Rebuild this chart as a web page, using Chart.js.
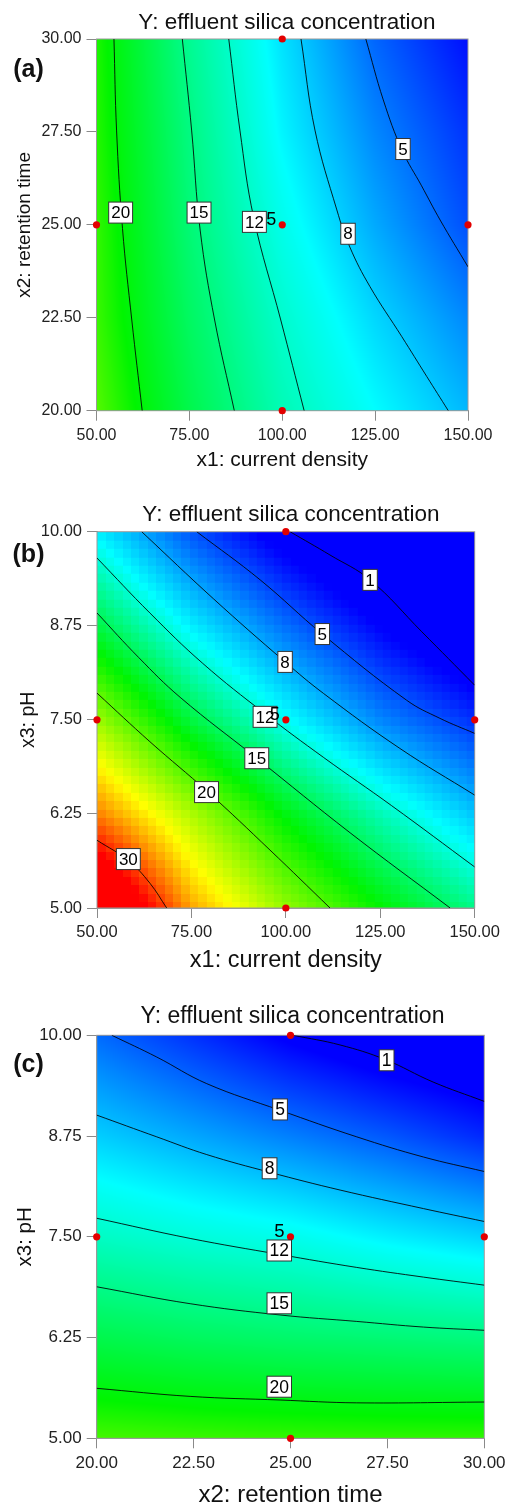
<!DOCTYPE html>
<html lang="en">
<head>
<meta charset="UTF-8">
<title>Y: effluent silica concentration</title>
<script src="https://cdn.jsdelivr.net/npm/chart.js"></script>
<style>
  body { margin: 0; background: #fff; }
  canvas { display: block; }
</style>
</head>
<body>
<canvas id="chartA" width="507" height="475"></canvas>
<canvas id="chartB" width="507" height="500"></canvas>
<canvas id="chartC" width="507" height="529"></canvas>
<script>
// ---------- panel (a): x1 current density / x2 retention time ----------
const aX1 = [50, 75, 100, 125, 150];
const aX2 = [30, 27.5, 25, 22.5, 20];
// silica at the grid nodes (rows = aX2, cols = aX1)
const aSilica = [
  [21.3, 14.5, 9.0, 4.6, 1.5],
  [21.5, 15.2, 9.7, 5.8, 2.8],
  [21.9, 15.7, 10.8, 7.0, 3.8],
  [22.1, 16.5, 12.0, 8.6, 5.8],
  [22.8, 17.4, 13.0, 10.0, 7.5]
];
const aLine20 = [[54.7, 30], [55.4, 27.55], [57.0, 24.9], [59.5, 22.44], [62.3, 20]];
const aLine15 = [[73.1, 30], [75.6, 27.55], [77.9, 24.86], [81.8, 22.44], [87.1, 20]];
const aLine12 = [[85.6, 30], [88.6, 27.55], [92.3, 25.2], [99.6, 22.44], [105.9, 20]];
const aLine8 = [[105.05, 30], [108.8, 27.55], [114.7, 25.4], [118.2, 24.4], [123.6, 23.34], [132.2, 21.99], [138.9, 20.92], [144.7, 20]];
const aLine5 = [[122.5, 30], [127.2, 28.36], [132.3, 27.0], [137.5, 26.05], [142.5, 25.13], [150, 23.87]];
const aLabelText = ['20', '15', '12', '8', '5'];
const aLabelX = [56.5, 77.6, 92.5, 117.7, 132.5];
const aLabelY = [25.33, 25.33, 25.08, 24.76, 27.04];
const aRunX = [50, 100, 100, 150, 100];
const aRunY = [25, 30, 25, 25, 20];

// ---------- panel (b): x1 current density / x3 pH ----------
const bX1 = [50, 75, 100, 125, 150];
const bPH = [10, 8.75, 7.5, 6.25, 5];
const bSilica = [
  [10.5, 5.3, 1.2, -2.0, -4.0],
  [15.8, 10.5, 6.2, 2.4, -0.9],
  [21.8, 15.9, 11.2, 7.0, 4.1],
  [27.8, 22.3, 17.1, 12.9, 9.1],
  [36.0, 26.8, 21.5, 17.5, 14.0]
];
const bLine1 = [[101.1, 10], [111.7, 9.69], [122.3, 9.36], [136.0, 8.67], [150, 7.96]];
const bLine5 = [[76.4, 10], [93.2, 9.36], [109.65, 8.64], [132.0, 7.76], [140.8, 7.52], [150, 7.32]];
const bLine8 = [[61.83, 10], [80.8, 9.11], [99.8, 8.27], [110, 7.85], [130.2, 7.12], [150, 6.5]];
const bLine12 = [[50, 9.65], [64, 8.92], [78, 8.25], [94.5, 7.58], [110, 7.0], [128, 6.36], [150, 5.545]];
const bLine15 = [[50, 8.92], [61, 8.33], [72, 7.8], [92.3, 6.99], [117, 6.0], [143.5, 5.0]];
const bLine20 = [[50, 7.855], [64, 7.21], [79.4, 6.54], [95.8, 5.77], [111.7, 5.0]];
const bLine30 = [[50, 5.9], [58.3, 5.63], [64, 5.33], [68.45, 5.0]];
const bLabelText = ['1', '5', '8', '12', '15', '20', '30'];
const bLabelX = [122.3, 109.65, 99.8, 94.5, 92.3, 79.0, 58.3];
const bLabelY = [9.36, 8.64, 8.27, 7.54, 6.99, 6.54, 5.65];
const bRunX = [50, 100, 100, 150, 100];
const bRunY = [7.5, 10, 7.5, 7.5, 5];

// ---------- panel (c): x2 retention time / x3 pH ----------
const cX2 = [20, 22.5, 25, 27.5, 30];
const cPH = [10, 8.75, 7.5, 6.25, 5];
const cSilica = [
  [5.3, 3.2, 1.1, -0.5, -1.5],
  [8.8, 7.4, 6.0, 4.6, 2.9],
  [12.8, 11.9, 11.2, 10.0, 9.0],
  [17.5, 16.8, 16.3, 15.9, 15.5],
  [22.4, 22.1, 21.9, 21.8, 21.8]
];
const cLine1 = [[25.07, 10], [26.28, 9.88], [27.44, 9.7], [28.68, 9.42], [30, 9.18]];
const cLine5 = [[20.39, 10], [21.55, 9.73], [22.84, 9.4], [24.73, 9.07], [26.71, 8.74], [28.43, 8.49], [30, 8.31]];
const cLine8 = [[20, 9.01], [21.55, 8.74], [22.84, 8.52], [24.47, 8.3], [26.28, 8.08], [28.43, 7.85], [30, 7.69]];
const cLine12 = [[20, 7.73], [22.41, 7.48], [24.73, 7.28], [26.71, 7.12], [28.43, 7.0], [30, 6.9]];
const cLine15 = [[20, 6.88], [22.41, 6.67], [24.73, 6.53], [26.71, 6.45], [28.43, 6.38], [30, 6.34]];
const cLine20 = [[20, 5.62], [22.41, 5.52], [24.73, 5.475], [26.71, 5.44], [30, 5.45]];
const cLabelText = ['1', '5', '8', '12', '15', '20'];
const cLabelX = [27.48, 24.73, 24.46, 24.71, 24.71, 24.71];
const cLabelY = [9.69, 9.08, 8.35, 7.33, 6.675, 5.64];
const cRunX = [20, 25, 25, 30, 25];
const cRunY = [7.5, 10, 7.5, 7.5, 5];

// centre point was run 5 times
const replicates = '5';

// colour map: blue, cyan, green, yellow, red (each panel has its own value stops)
const mapColours = [[0, 0, 255], [0, 255, 255], [0, 245, 0], [255, 255, 0], [255, 0, 0]];

const FONT = "'Liberation Sans', Arial, sans-serif";

function colourOf(v, stops) {
  if (v <= stops[0]) return mapColours[0];
  for (let k = 1; k < stops.length; k++) {
    if (v <= stops[k]) {
      const t = (v - stops[k - 1]) / (stops[k] - stops[k - 1]);
      const a = mapColours[k - 1], b = mapColours[k];
      return [a[0] + (b[0] - a[0]) * t, a[1] + (b[1] - a[1]) * t, a[2] + (b[2] - a[2]) * t];
    }
  }
  return mapColours[mapColours.length - 1];
}

// value on the node grid (cols ascending, rows descending)
function surface(cols, rows, grid, xv, yv) {
  let i = 0;
  while (i < cols.length - 2 && xv > cols[i + 1]) i++;
  let j = 0;
  while (j < rows.length - 2 && yv < rows[j + 1]) j++;
  const tx = Math.min(1, Math.max(0, (xv - cols[i]) / (cols[i + 1] - cols[i])));
  const ty = Math.min(1, Math.max(0, (yv - rows[j]) / (rows[j + 1] - rows[j])));
  const top = grid[j][i] * (1 - tx) + grid[j][i + 1] * tx;
  const bot = grid[j + 1][i] * (1 - tx) + grid[j + 1][i + 1] * tx;
  return top * (1 - ty) + bot * ty;
}

function heatmapPlugin(p) {
  return {
    id: 'heatmap',
    beforeDatasetsDraw(chart) {
      const { ctx, chartArea: a, scales: { x, y } } = chart;
      const w = Math.round(a.right - a.left), h = Math.round(a.bottom - a.top);
      const off = document.createElement('canvas');
      off.width = w; off.height = h;
      const octx = off.getContext('2d');
      const img = octx.createImageData(w, h);
      for (let r = 0; r < h; r++) {
        for (let c = 0; c < w; c++) {
          let px = a.left + c + 0.5, py = a.top + r + 0.5;
          if (p.block) { // coarse cells like the original render
            px = a.left + (Math.floor(c / p.block) + 0.5) * p.block;
            py = a.top + (Math.floor(r / p.block) + 0.5) * p.block;
          }
          const v = surface(p.cols, p.rows, p.grid, x.getValueForPixel(px), y.getValueForPixel(py));
          const col = colourOf(v, p.stops);
          const k = (r * w + c) * 4;
          img.data[k] = col[0]; img.data[k + 1] = col[1]; img.data[k + 2] = col[2]; img.data[k + 3] = 255;
        }
      }
      octx.putImageData(img, 0, 0);
      ctx.save();
      ctx.drawImage(off, a.left, a.top, a.right - a.left, a.bottom - a.top);
      ctx.strokeStyle = '#9a9a9a';
      ctx.lineWidth = 1;
      ctx.strokeRect(a.left, a.top, a.right - a.left, a.bottom - a.top);
      ctx.restore();
    }
  };
}

function labelPlugin(p) {
  return {
    id: 'contourLabels',
    afterDatasetsDraw(chart) {
      const { ctx, scales: { x, y } } = chart;
      ctx.save();
      ctx.font = p.labelSize + 'px ' + FONT;
      ctx.textAlign = 'center';
      ctx.textBaseline = 'middle';
      p.labelText.forEach((t, k) => {
        const cx = x.getPixelForValue(p.labelX[k]);
        const cy = y.getPixelForValue(p.labelY[k]);
        const bw = ctx.measureText(t).width + 5, bh = 21;
        ctx.fillStyle = '#fff';
        ctx.fillRect(cx - bw / 2, cy - bh / 2, bw, bh);
        ctx.strokeStyle = '#333';
        ctx.lineWidth = 1;
        ctx.strokeRect(cx - bw / 2, cy - bh / 2, bw, bh);
        ctx.fillStyle = '#000';
        ctx.fillText(t, cx, cy + 1);
      });
      // replicate count next to the centre point
      const cx = x.getPixelForValue(p.runX[2]) - 11;
      const cy = y.getPixelForValue(p.runY[2]) - 5;
      ctx.font = (p.labelSize + 1) + 'px ' + FONT;
      ctx.fillStyle = '#000';
      ctx.fillText(replicates, cx, cy);
      ctx.restore();
    }
  };
}

function textPlugin(p) {
  return {
    id: 'panelText',
    afterDraw(chart) {
      const ctx = chart.ctx;
      ctx.save();
      ctx.fillStyle = '#111';
      ctx.textAlign = 'center';
      ctx.textBaseline = 'middle';
      ctx.font = p.titleSize + 'px ' + FONT;
      ctx.fillText('Y: effluent silica concentration', p.titleX, p.titleY);
      ctx.font = 'bold 25px ' + FONT;
      ctx.fillText(p.letter, 28.5, p.letterY);
      ctx.restore();
    }
  };
}

function buildPanel(id, p) {
  const lines = p.lines.map(pts => ({
    type: 'line',
    data: pts.map(([xv, yv]) => ({ x: xv, y: yv })),
    borderColor: 'rgba(0,0,0,0.85)',
    borderWidth: 1,
    pointRadius: 0,
    tension: 0.4,
    fill: false,
    order: 2
  }));
  const runs = {
    type: 'scatter',
    data: p.runX.map((xv, k) => ({ x: xv, y: p.runY[k] })),
    pointRadius: 3.6,
    backgroundColor: '#e30000',
    borderWidth: 0,
    clip: false,
    order: 1
  };
  const tickFont = { family: FONT, size: p.tickSize };
  return new Chart(document.getElementById(id), {
    type: 'scatter',
    data: { datasets: [runs].concat(lines) },
    options: {
      responsive: false,
      animation: false,
      events: [],
      layout: { padding: { top: p.top, right: p.right, left: 0, bottom: 0 } },
      plugins: { legend: { display: false }, tooltip: { enabled: false } },
      scales: {
        x: {
          type: 'linear',
          min: p.cols[0],
          max: p.cols[p.cols.length - 1],
          afterBuildTicks: s => { s.ticks = p.cols.map(v => ({ value: v })); },
          afterFit: s => { s.height = p.xAxisH; s.paddingLeft = 0; s.paddingRight = 0; },
          ticks: { callback: v => v.toFixed(2), font: tickFont, color: '#222', padding: 5, maxRotation: 0 },
          grid: { drawOnChartArea: false, tickLength: 10, color: '#8a8a8a' },
          border: { color: '#9a9a9a' },
          title: { display: true, text: p.xTitle, color: '#111',
                   font: { family: FONT, size: p.xTitleSize, lineHeight: p.xTitleLH },
                   padding: { top: 0, bottom: p.xTitlePad } }
        },
        y: {
          type: 'linear',
          min: p.rows[p.rows.length - 1],
          max: p.rows[0],
          afterBuildTicks: s => { s.ticks = p.rows.slice().reverse().map(v => ({ value: v })); },
          afterFit: s => { s.width = p.yAxisW; s.paddingTop = 0; s.paddingBottom = 0; },
          ticks: { callback: v => v.toFixed(2), font: tickFont, color: '#222', padding: 5 },
          grid: { drawOnChartArea: false, tickLength: 10, color: '#8a8a8a' },
          border: { color: '#9a9a9a' },
          title: { display: true, text: p.yTitle, color: '#111',
                   font: { family: FONT, size: p.yTitleSize, lineHeight: 1.2 },
                   padding: { top: p.yTitlePad, bottom: 0 } }
        }
      }
    },
    plugins: [heatmapPlugin(p), labelPlugin(p), textPlugin(p)]
  });
}

buildPanel('chartA', {
  cols: aX1, rows: aX2, grid: aSilica, block: 0, stops: [1, 10, 20.5, 27.5, 34.5],
  lines: [aLine20, aLine15, aLine12, aLine8, aLine5],
  labelText: aLabelText, labelX: aLabelX, labelY: aLabelY, labelSize: 17,
  runX: aRunX, runY: aRunY,
  top: 39, right: 39, yAxisW: 96.5, xAxisH: 64.3,
  tickSize: 16,
  xTitle: 'x1: current density', xTitleSize: 21, xTitleLH: 1.2, xTitlePad: 2.4,
  yTitle: 'x2: retention time', yTitleSize: 19, yTitlePad: 13.6,
  titleSize: 22.5, titleX: 287, titleY: 23, letter: '(a)', letterY: 70
});

buildPanel('chartB', {
  cols: bX1, rows: bPH, grid: bSilica, block: 8.4, stops: [2.5, 11, 17.5, 24.5, 31],
  lines: [bLine1, bLine5, bLine8, bLine12, bLine15, bLine20, bLine30],
  labelText: bLabelText, labelX: bLabelX, labelY: bLabelY, labelSize: 17,
  runX: bRunX, runY: bRunY,
  top: 56.7, right: 32.3, yAxisW: 97, xAxisH: 67,
  tickSize: 16.5,
  xTitle: 'x1: current density', xTitleSize: 23.5, xTitleLH: 1.1, xTitlePad: 2,
  yTitle: 'x3: pH', yTitleSize: 19.5, yTitlePad: 16.6,
  titleSize: 22.5, titleX: 291, titleY: 40, letter: '(b)', letterY: 80
});

buildPanel('chartC', {
  cols: cX2, rows: cPH, grid: cSilica, block: 0, stops: [1.5, 10.5, 20.5, 27.5, 34.5],
  lines: [cLine1, cLine5, cLine8, cLine12, cLine15, cLine20],
  labelText: cLabelText, labelX: cLabelX, labelY: cLabelY, labelSize: 17.5,
  runX: cRunX, runY: cRunY,
  top: 60.3, right: 22.7, yAxisW: 96.7, xAxisH: 65.7,
  tickSize: 17,
  xTitle: 'x2: retention time', xTitleSize: 24, xTitleLH: 0.75, xTitlePad: 0,
  yTitle: 'x3: pH', yTitleSize: 20.5, yTitlePad: 13.5,
  titleSize: 23, titleX: 292.5, titleY: 41.7, letter: '(c)', letterY: 90
});
</script>
</body>
</html>
